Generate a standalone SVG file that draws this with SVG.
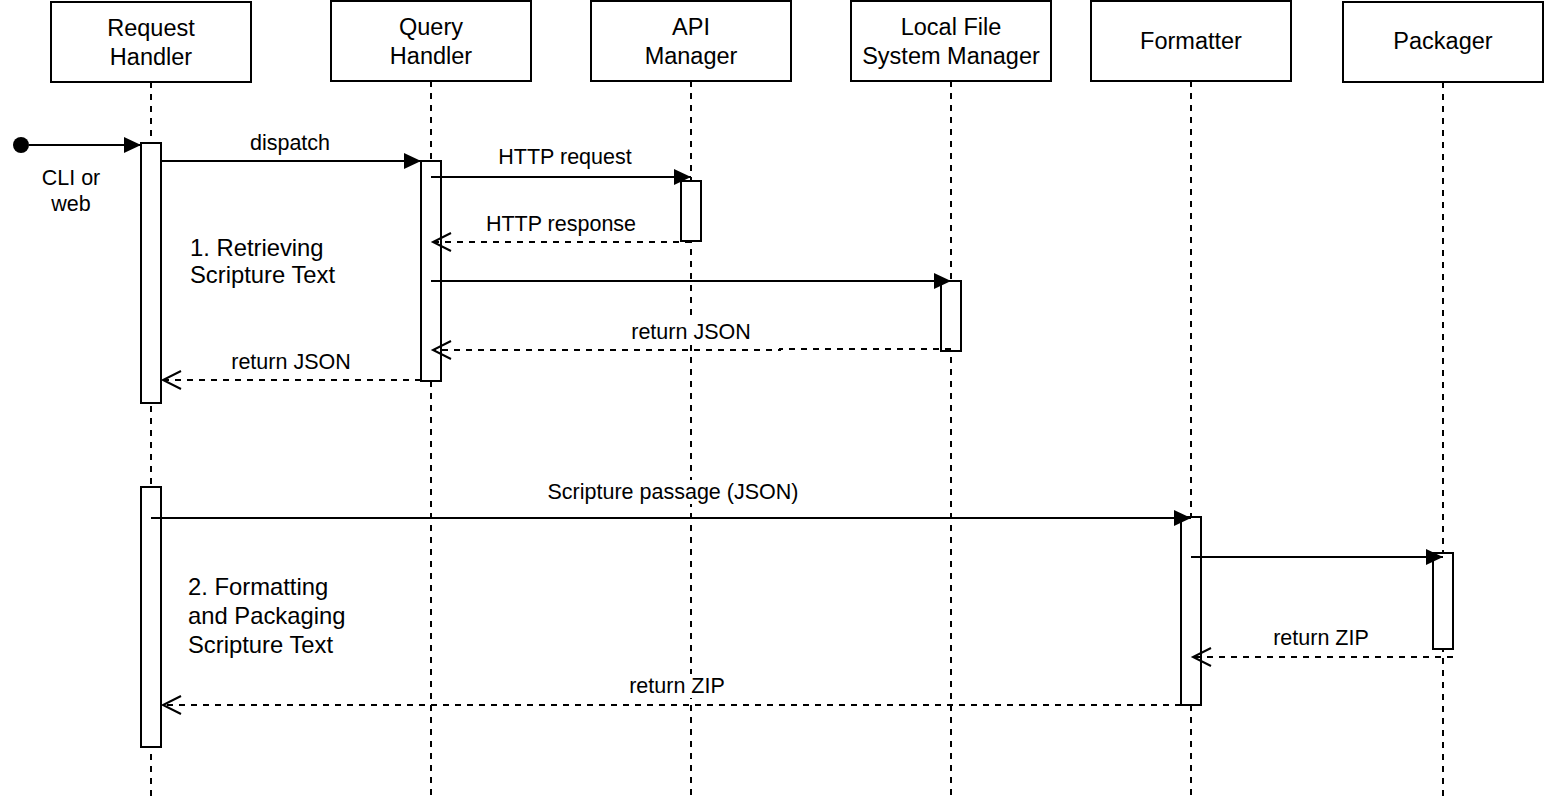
<svg xmlns="http://www.w3.org/2000/svg" width="1544" height="804" viewBox="0 0 1544 804">
<defs>
<style>
.box{fill:#fff;stroke:#000;stroke-width:2}
.act{fill:#fff;stroke:#000;stroke-width:2}
.life{stroke:#000;stroke-width:2;stroke-dasharray:6 6;fill:none}
.msg{stroke:#000;stroke-width:2;fill:none;marker-end:url(#filled)}
.ret{stroke:#000;stroke-width:2;fill:none;stroke-dasharray:6 6;marker-end:url(#open)}
.bg{fill:#fff;stroke:none}
text{font-family:"Liberation Sans",Arial,Helvetica,sans-serif;fill:#000}
.lbl{font-size:23.5px;text-anchor:middle}
.ml{font-size:21.5px;text-anchor:middle}
.note{font-size:23.8px}
</style>
<marker id="filled" markerUnits="userSpaceOnUse" markerWidth="20" markerHeight="20" refX="17" refY="8" orient="auto" overflow="visible">
<path d="M0,0 L17,8 L0,16 Z" fill="#000" stroke="none"/>
</marker>
<marker id="open" markerUnits="userSpaceOnUse" markerWidth="20" markerHeight="20" refX="18" refY="9" orient="auto" overflow="visible">
<path d="M0,0 L18,9 L0,18" fill="none" stroke="#000" stroke-width="2"/>
</marker>
</defs>
<rect width="1544" height="804" fill="#fff"/>

<g id="lifelines">
<line class="life" x1="151" y1="82" x2="151" y2="800"/>
<line class="life" x1="431" y1="81" x2="431" y2="800"/>
<line class="life" x1="691" y1="81" x2="691" y2="800"/>
<line class="life" x1="951" y1="81" x2="951" y2="800"/>
<line class="life" x1="1191" y1="81" x2="1191" y2="800"/>
<line class="life" x1="1443" y1="82" x2="1443" y2="800"/>
</g>

<g id="request-handler">
<rect class="box" x="51" y="2" width="200" height="80"/>
<text class="lbl" x="151" y="36">Request</text>
<text class="lbl" x="151" y="65">Handler</text>
<rect class="act" x="141" y="143" width="20" height="260"/>
<rect class="act" x="141" y="487" width="20" height="260"/>
</g>

<g id="query-handler">
<rect class="box" x="331" y="1" width="200" height="80"/>
<text class="lbl" x="431" y="35">Query</text>
<text class="lbl" x="431" y="64">Handler</text>
<rect class="act" x="421" y="161" width="20" height="220"/>
</g>

<g id="api-manager">
<rect class="box" x="591" y="1" width="200" height="80"/>
<text class="lbl" x="691" y="35">API</text>
<text class="lbl" x="691" y="64">Manager</text>
<rect class="act" x="681" y="181" width="20" height="60"/>
</g>

<g id="local-file-system-manager">
<rect class="box" x="851" y="1" width="200" height="80"/>
<text class="lbl" x="951" y="35">Local File</text>
<text class="lbl" x="951" y="64">System Manager</text>
<rect class="act" x="941" y="281" width="20" height="70"/>
</g>

<g id="formatter">
<rect class="box" x="1091" y="1" width="200" height="80"/>
<text class="lbl" x="1191" y="49">Formatter</text>
<rect class="act" x="1181" y="517" width="20" height="188"/>
</g>

<g id="packager">
<rect class="box" x="1343" y="2" width="200" height="80"/>
<text class="lbl" x="1443" y="49">Packager</text>
<rect class="act" x="1433" y="553" width="20" height="96"/>
</g>

<g id="start">
<circle cx="21" cy="145" r="8" fill="#000"/>
<text class="ml" x="71" y="185">CLI or</text>
<text class="ml" x="71" y="211">web</text>
</g>

<g id="notes">
<text class="note" x="190" y="256">1. Retrieving</text>
<text class="note" x="190" y="283">Scripture Text</text>
<text class="note" x="188" y="595">2. Formatting</text>
<text class="note" x="188" y="624">and Packaging</text>
<text class="note" x="188" y="653">Scripture Text</text>
</g>

<g id="connectors">
<line class="msg" x1="29" y1="145" x2="141" y2="145"/>
<line class="msg" x1="161" y1="161" x2="421" y2="161"/>
<text class="ml" x="290" y="150">dispatch</text>
<line class="msg" x1="431" y1="177" x2="691" y2="177"/>
<text class="ml" x="565" y="164">HTTP request</text>
<line class="ret" x1="691" y1="242" x2="433" y2="242"/>
<text class="ml" x="561" y="231">HTTP response</text>
<line class="msg" x1="431" y1="281" x2="951" y2="281"/>
<path class="ret" d="M951,349 L780,349 L780,350 L433,350"/>
<rect class="bg" x="630" y="320" width="122" height="24"/>
<text class="ml" x="691" y="339">return JSON</text>
<line class="ret" x1="421" y1="380" x2="163" y2="380"/>
<text class="ml" x="291" y="369">return JSON</text>
<line class="msg" x1="151" y1="518" x2="1191" y2="518"/>
<rect class="bg" x="546" y="480" width="254" height="24"/>
<text class="ml" x="673" y="499">Scripture passage (JSON)</text>
<line class="msg" x1="1191" y1="557" x2="1443" y2="557"/>
<line class="ret" x1="1453" y1="657" x2="1193" y2="657"/>
<text class="ml" x="1321" y="645">return ZIP</text>
<line class="ret" x1="1181" y1="705" x2="163" y2="705"/>
<rect class="bg" x="628" y="674" width="98" height="24"/>
<text class="ml" x="677" y="693">return ZIP</text>
</g>
</svg>
